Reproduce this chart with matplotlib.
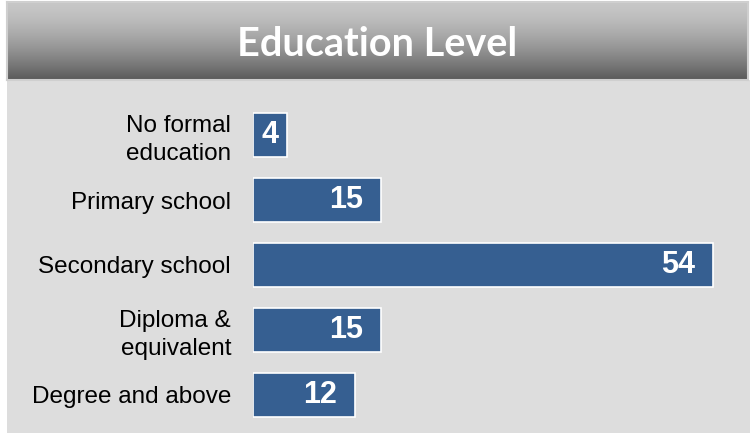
import numpy as np
import matplotlib.pyplot as plt

categories = ['No formal\neducation', 'Primary school', 'Secondary school',
              'Diploma &\nequivalent', 'Degree and above']
values = [4, 15, 54, 15, 12]
title = 'Education Level'

W, H = 750, 433
fig = plt.figure(figsize=(W / 100, H / 100), dpi=100)

def px(left, top, width, height):
    # pixel box -> figure fraction
    return [left / W, (H - top - height) / H, width / W, height / H]

# grey panel behind the bars
bg = fig.add_axes(px(7, 80, 743, 353))
bg.set_facecolor('#dddddd')
bg.set_xticks([]); bg.set_yticks([])
for s in bg.spines.values():
    s.set_visible(False)

# title banner with vertical gradient
ban = fig.add_axes(px(7, 2, 741, 78))
grad = np.linspace(0, 1, 256).reshape(-1, 1)
top_c = np.array([0.78, 0.78, 0.78])
bot_c = np.array([0.35, 0.35, 0.35])
img = top_c + (bot_c - top_c) * grad[..., None] ** 1.5
ban.imshow(img, aspect='auto', extent=(0, 1, 0, 1))
ban.set_xlim(0, 1); ban.set_ylim(0, 1)
ban.set_xticks([]); ban.set_yticks([])
for s in ban.spines.values():
    s.set_color('#cfcfcf')
    s.set_linewidth(1.5)
ban.text(0.5, 0.45, title, ha='center', va='center', color='white',
         fontsize=28.5, fontweight='bold', family='Lato')

# bars
scale = 8.52  # px per unit
xmax = 55.2
ax = fig.add_axes(px(253, 102.5, xmax * scale, 325), facecolor='none')
y = np.arange(len(values))
ax.barh(y, values, height=0.677, color='#365f91', edgecolor='white',
        linewidth=1.2)
ax.set_xlim(0, xmax)
ax.set_ylim(len(values) - 0.5, -0.5)
ax.set_yticks(y)
ax.set_yticklabels(categories, fontsize=17.5, family='Liberation Sans',
                   color='black', linespacing=1.3)
ax.tick_params(axis='y', length=0, pad=15.8)
ax.set_xticks([])
for s in ax.spines.values():
    s.set_visible(False)

for yi, v in zip(y, values):
    if v * scale > 60:
        ax.annotate(str(v), (v, yi), xytext=(-13, 0), textcoords='offset points',
                    ha='right', va='center', color='white', fontsize=22,
                    fontweight='bold', family='Liberation Sans')
    else:
        ax.annotate(str(v), (v / 2, yi), ha='center', va='center',
                    color='white', fontsize=22, fontweight='bold',
                    family='Liberation Sans')

fig.savefig('out.png', dpi=100)
